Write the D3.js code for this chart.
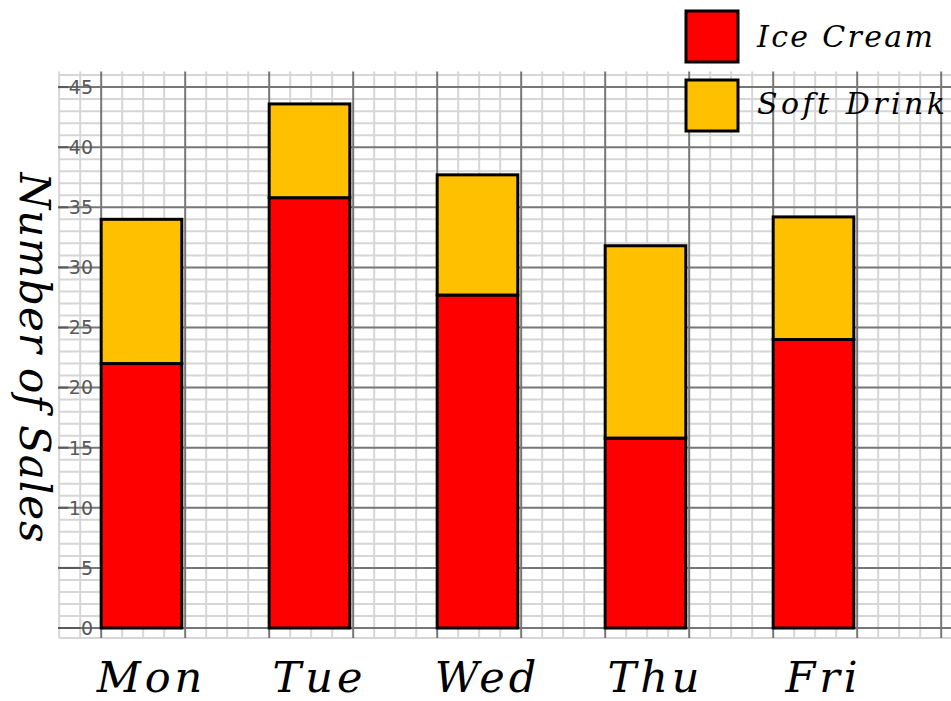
<!DOCTYPE html>
<html>
<head>
<meta charset="utf-8">
<script src="https://cdn.jsdelivr.net/npm/d3@7"></script>
<style>
  html, body { margin: 0; padding: 0; background: #fff; }
  svg { display: block; }
</style>
</head>
<body>
<div id="chart"></div>
<script>
// data
const days = ["Mon", "Tue", "Wed", "Thu", "Fri"];
const iceCream = [22, 35.8, 27.7, 15.8, 24];
const softDrink = [12, 7.8, 10, 16, 10.2];
const seriesNames = ["Ice Cream", "Soft Drink"];
const seriesColors = ["#ff0000", "#ffc000"];
const yTicks = [0, 5, 10, 15, 20, 25, 30, 35, 40, 45];

const W = 951, H = 701;
const svg = d3.select("#chart").append("svg")
  .attr("width", W)
  .attr("height", H);

const x = d3.scaleBand()
  .domain(days)
  .range([57.5, 897.5])
  .paddingInner(0.52)
  .paddingOuter(0.26);

const y = d3.scaleLinear()
  .domain([0, 45])
  .range([628, 87.1]);

const gridTop = y(46.3), gridBottom = y(-0.83), gridLeft = 59;

// grid - minor first, then major on top
const grid = svg.append("g");
const sub = x.step() / 8;
const x0 = x(days[0]);
const vLines = [];
for (let k = -2; x0 + k * sub <= W; k++) vLines.push({ pos: x0 + k * sub, major: k % 4 === 0 });
const hLines = d3.range(0, 47).map(v => ({ pos: y(v), major: v % 5 === 0 }));

function drawLines(major) {
  grid.selectAll(null)
    .data(hLines.filter(d => d.major === major))
    .enter().append("line")
    .attr("x1", gridLeft).attr("x2", W)
    .attr("y1", d => d.pos).attr("y2", d => d.pos)
    .attr("stroke", major ? "#777" : "#d6d6d6")
    .attr("stroke-width", 2);
  grid.selectAll(null)
    .data(vLines.filter(d => d.major === major))
    .enter().append("line")
    .attr("x1", d => d.pos).attr("x2", d => d.pos)
    .attr("y1", gridTop).attr("y2", gridBottom)
    .attr("stroke", major ? "#777" : "#d6d6d6")
    .attr("stroke-width", 2);
}
drawLines(false);
grid.append("line")
  .attr("x1", gridLeft).attr("x2", W)
  .attr("y1", gridBottom).attr("y2", gridBottom)
  .attr("stroke", "#d6d6d6").attr("stroke-width", 2);
drawLines(true);

// y tick labels, with a dash running up to each label
const tickG = svg.append("g");
yTicks.forEach(t => {
  const txt = tickG.append("text")
    .attr("x", 93)
    .attr("y", y(t))
    .attr("dy", "0.36em")
    .attr("text-anchor", "end")
    .attr("font-family", "DejaVu Sans, sans-serif")
    .attr("font-size", 19)
    .attr("fill", "#595959")
    .text(t);
  const w = txt.node().getComputedTextLength();
  tickG.append("line")
    .attr("x1", 58).attr("x2", 93 - w - 0.5)
    .attr("y1", y(t)).attr("y2", y(t))
    .attr("stroke", "#595959").attr("stroke-width", 2);
});

// stacked bars
const table = days.map((d, i) => ({ day: d, "Ice Cream": iceCream[i], "Soft Drink": softDrink[i] }));
const stacked = d3.stack().keys(seriesNames)(table);

svg.append("g").selectAll("g")
  .data(stacked)
  .enter().append("g")
  .attr("fill", (d, i) => seriesColors[i])
  .selectAll("rect")
  .data(d => d)
  .enter().append("rect")
  .attr("x", d => x(d.data.day))
  .attr("width", x.bandwidth())
  .attr("y", d => y(d[1]))
  .attr("height", d => y(d[0]) - y(d[1]))
  .attr("stroke", "#000")
  .attr("stroke-width", 3);

// x labels
svg.append("g").selectAll("text")
  .data(days)
  .enter().append("text")
  .attr("x", d => x(d) + x.bandwidth() / 2 + 10)
  .attr("y", 692)
  .attr("text-anchor", "middle")
  .attr("font-family", "DejaVu Serif, serif")
  .attr("font-style", "italic")
  .attr("font-size", 43)
  .attr("letter-spacing", 4)
  .attr("fill", "#000")
  .text(d => d);

// y title
svg.append("text")
  .attr("transform", "translate(20," + (y(0) + y(45)) / 2 + ") rotate(90)")
  .attr("text-anchor", "middle")
  .attr("font-family", "DejaVu Serif, serif")
  .attr("font-style", "italic")
  .attr("font-size", 42)
  .attr("textLength", 370)
  .attr("lengthAdjust", "spacing")
  .attr("fill", "#000")
  .text("Number of Sales");

// legend
const legend = svg.append("g");
seriesNames.forEach((name, i) => {
  legend.append("rect")
    .attr("x", 686).attr("y", 11 + i * 69)
    .attr("width", 52).attr("height", 51)
    .attr("fill", seriesColors[i])
    .attr("stroke", "#000").attr("stroke-width", 3);
  legend.append("text")
    .attr("x", 757).attr("y", 47 + i * 67)
    .attr("font-family", "DejaVu Serif, serif")
    .attr("font-style", "italic")
    .attr("font-size", 30)
    .attr("textLength", i === 0 ? 176 : 188)
    .attr("lengthAdjust", "spacing")
    .attr("fill", "#000")
    .text(name);
});
</script>
</body>
</html>
